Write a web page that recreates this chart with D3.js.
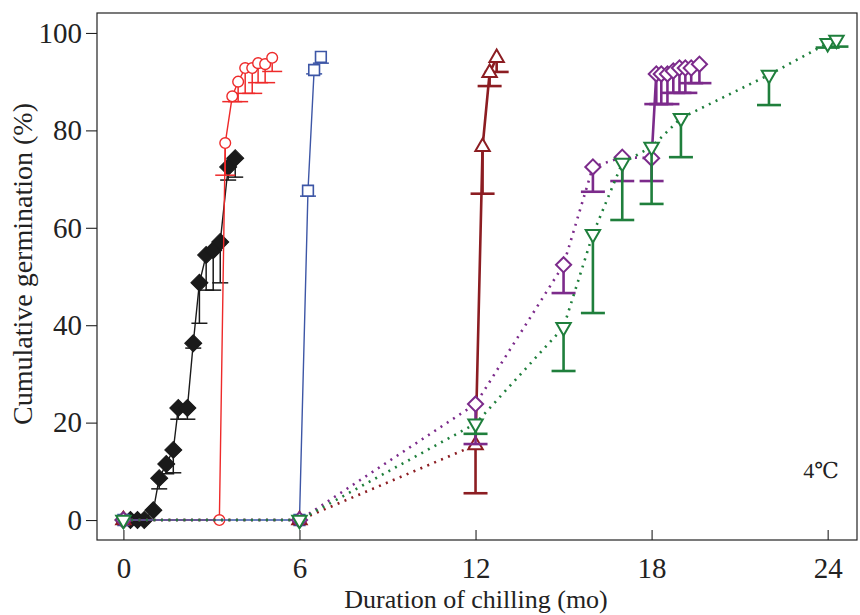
<!DOCTYPE html>
<html>
<head>
<meta charset="utf-8">
<script src="https://cdn.jsdelivr.net/npm/d3@7"></script>
<style>
body { margin: 0; background: #fff; }
text { font-family: "Liberation Serif", "DejaVu Serif", serif; fill: #222; }
</style>
</head>
<body>
<svg id="chart" width="860" height="615"></svg>
<script>
// chilling duration (mo), mean germination (%), lower end of error bar (%)
var blackX = [0, 0.24, 0.48, 0.71, 1.02, 1.22, 1.46, 1.7, 1.87, 2.18, 2.38, 2.59, 2.82, 3.06, 3.3, 3.57, 3.81];
var blackY = [0, 0, 0, 0, 2, 8.6, 11.5, 14.4, 23, 23, 36.3, 48.7, 54.4, 55.4, 57.1, 72.5, 74.3];
var blackLo = [0, 0, 0, 0, 2, 6.4, 9.5, 9.7, 20.7, 20.7, 35.3, 40.4, 47.2, 47.2, 48.7, 69.8, 70.4];

var redX = [0, 3.27, 3.47, 3.71, 3.91, 4.15, 4.39, 4.59, 4.83, 5.07];
var redY = [0, 0, 77.4, 87, 90, 92.8, 92.8, 93.8, 93.6, 94.9];
var redLo = [0, 0, 70.8, 85.9, 85.9, 87.6, 87.6, 89.8, 89.8, 92.1];

var blueX = [0, 6, 6.29, 6.5, 6.73];
var blueY = [0, 0, 67.6, 92.4, 95.1];
var blueLo = [0, 0, 66.5, 91.6, 93.8];

var brownX = [0, 6, 12, 12.24, 12.48, 12.72];
var brownY = [0, 0, 15.4, 76.6, 91.8, 94.9];
var brownLo = [0, 0, 5.5, 67, 89.1, 92];

var purpleX = [0, 6, 12, 15, 16, 17, 18, 18.16, 18.33, 18.54, 18.74, 18.95, 19.15, 19.35, 19.63];
var purpleY = [0, 0, 23.8, 52.4, 72.5, 74.5, 74.3, 91.6, 91.6, 91.6, 92.2, 92.8, 92.8, 92.8, 93.6];
var purpleLo = [0, 0, 15.6, 46.6, 67.4, 69.6, 69.6, 85.4, 85.4, 85.4, 87.7, 87.7, 87.7, 89.7, 89.7];

var greenX = [0, 6, 12, 15, 16, 17, 18, 19, 22, 24, 24.3];
var greenY = [0, 0, 19.8, 39.6, 58.7, 73.3, 76.6, 82.5, 91.4, 97.9, 98.6];
var greenLo = [0, 0, 17.7, 30.6, 42.5, 61.6, 64.9, 74.5, 85.2, 97, 97.2];

var xTicks = [0, 6, 12, 18, 24];
var yTicks = [0, 20, 40, 60, 80, 100];

var svg = d3.select("#chart");
var pLeft = 97, pRight = 857, pTop = 13, pBottom = 540;

var x = d3.scaleLinear().domain([-0.9, 25]).range([pLeft, pRight]);
var y = d3.scaleLinear().domain([-4.1, 104.1]).range([pBottom, pTop]);

// frame
svg.append("rect")
    .attr("x", pLeft).attr("y", pTop)
    .attr("width", pRight - pLeft).attr("height", pBottom - pTop)
    .attr("fill", "none").attr("stroke", "#222").attr("stroke-width", 1.2);

var yAxis = svg.append("g")
    .attr("transform", "translate(" + pLeft + ",0)")
    .call(d3.axisLeft(y).tickValues(yTicks).tickSize(11).tickPadding(4));
var xAxis = svg.append("g")
    .attr("transform", "translate(0," + pBottom + ")")
    .call(d3.axisBottom(x).tickValues(xTicks).tickSize(-10).tickPadding(17));
[xAxis, yAxis].forEach(function (a) {
  a.select(".domain").remove();
  a.selectAll("line").attr("stroke", "#222").attr("stroke-width", 1.1);
  a.selectAll("text").style("font-family", "'Liberation Serif', serif")
    .style("font-size", "29px").attr("fill", "#222");
});

svg.append("text")
    .attr("x", 476).attr("y", 608)
    .attr("text-anchor", "middle")
    .style("font-size", "26px")
    .text("Duration of chilling (mo)");
svg.append("text")
    .attr("transform", "translate(32,264) rotate(-90)")
    .attr("text-anchor", "middle")
    .style("font-size", "28px")
    .text("Cumulative germination (%)");
svg.append("text")
    .attr("x", 821).attr("y", 478)
    .attr("text-anchor", "middle")
    .style("font-size", "22px")
    .text("4\u2103");

function drawSeries(xs, ys, lo, opt) {
  var pts = xs.map(function (d, i) { return { x: d, y: ys[i], lo: lo[i] }; });
  var line = d3.line().x(function (d) { return x(d.x); }).y(function (d) { return y(d.y); });
  var g = svg.append("g");
  var split = opt.solidFrom;
  if (split > 0) {
    g.append("path").datum(pts.slice(0, split + 1))
      .attr("d", line).attr("fill", "none")
      .attr("stroke", opt.color).attr("stroke-width", 2.6)
      .attr("stroke-dasharray", "2,5.5");
  }
  if (split < pts.length - 1) {
    g.append("path").datum(pts.slice(split))
      .attr("d", line).attr("fill", "none")
      .attr("stroke", opt.color).attr("stroke-width", opt.lw);
  }
  var bars = pts.filter(function (d) { return d.y - d.lo > 0.4; });
  g.selectAll(".eb").data(bars).enter().append("line")
    .attr("x1", function (d) { return x(d.x); }).attr("x2", function (d) { return x(d.x); })
    .attr("y1", function (d) { return y(d.y); }).attr("y2", function (d) { return y(d.lo); })
    .attr("stroke", opt.color).attr("stroke-width", opt.ew);
  g.selectAll(".cap").data(bars).enter().append("line")
    .attr("x1", function (d) { return x(d.x) - opt.cap; }).attr("x2", function (d) { return x(d.x) + opt.cap; })
    .attr("y1", function (d) { return y(d.lo); }).attr("y2", function (d) { return y(d.lo); })
    .attr("stroke", opt.color).attr("stroke-width", opt.ew);
  g.selectAll(".mk").data(pts).enter().append("path")
    .attr("d", d3.symbol().type(opt.symbol).size(opt.size))
    .attr("transform", function (d) {
      return "translate(" + x(d.x) + "," + y(d.y) + ") rotate(" + opt.rot + ")";
    })
    .attr("fill", opt.fill).attr("stroke", opt.color).attr("stroke-width", opt.mw);
}

drawSeries(blackX, blackY, blackLo, { color: "#1a1a1a", fill: "#1a1a1a", lw: 1.4, ew: 1.5, cap: 8,
  symbol: d3.symbolSquare, size: 145, rot: 45, mw: 1, solidFrom: 0 });
drawSeries(redX, redY, redLo, { color: "#ee2a2a", fill: "#fff", lw: 1.4, ew: 1.5, cap: 10,
  symbol: d3.symbolCircle, size: 90, rot: 0, mw: 1.4, solidFrom: 0 });
drawSeries(blueX, blueY, blueLo, { color: "#3d56a6", fill: "#fff", lw: 1.4, ew: 1.5, cap: 8,
  symbol: d3.symbolSquare, size: 115, rot: 0, mw: 1.6, solidFrom: 0 });
drawSeries(brownX, brownY, brownLo, { color: "#8c1d22", fill: "#fff", lw: 2.6, ew: 2.6, cap: 12,
  symbol: d3.symbolTriangle, size: 90, rot: 0, mw: 2, solidFrom: 2 });
drawSeries(purpleX, purpleY, purpleLo, { color: "#7c2b8b", fill: "#fff", lw: 2.6, ew: 2.6, cap: 12,
  symbol: d3.symbolSquare, size: 115, rot: 45, mw: 2, solidFrom: 6 });
drawSeries(greenX, greenY, greenLo, { color: "#1f7f3c", fill: "#fff", lw: 2.6, ew: 2.6, cap: 12,
  symbol: d3.symbolTriangle, size: 90, rot: 180, mw: 2, solidFrom: greenX.length - 1 });
</script>
</body>
</html>
